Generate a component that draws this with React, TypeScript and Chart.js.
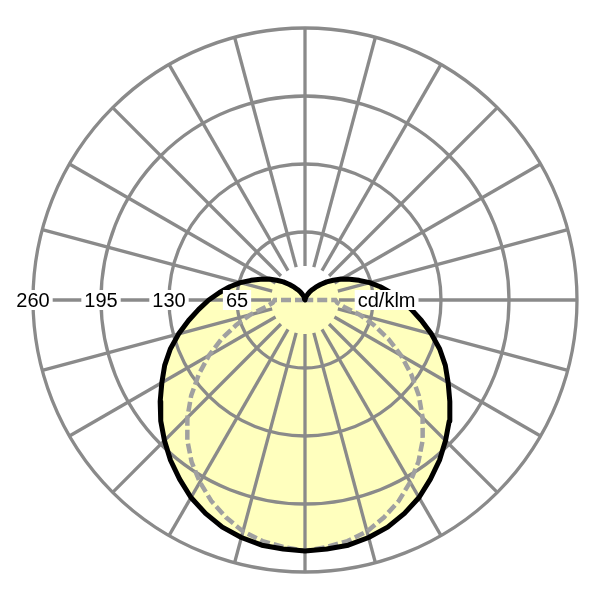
import { useEffect, useRef } from 'react';
import Chart from 'chart.js/auto';

// gamma angles (0 = straight down), intensities in cd/klm
const ANGLES = [
	0, 5, 10, 15, 20, 25, 30, 35, 40, 45, 50, 55, 60, 65, 70, 75, 80, 85, 90,
	95, 100, 105, 110, 115, 120, 125, 130, 135, 140, 145, 150, 155, 160, 165, 170, 175, 180,
];
const C0_C180 = [
	240, 239, 238, 235, 231, 225, 218, 209, 200, 190, 180, 169, 158, 148, 137, 125, 113, 102, 92,
	82, 73, 64, 55, 47, 40, 33, 27, 21, 16, 12, 9, 6, 4, 2, 1, 0, 0,
];
const C90_C270 = [
	240, 237, 234, 229, 221, 212, 201, 189, 175, 159, 142, 124, 106, 88, 70, 54, 38, 31, 29,
	0, 0, 0, 0, 0, 0, 0, 0, 0, 0, 0, 0, 0, 0, 0, 0, 0, 0,
];
const RINGS = [65, 130, 195, 260];
const UNIT = 'cd/klm';

const GRID = '#8a8a8a';
const FONT = '20px "Liberation Sans", Arial, sans-serif';
const PX = 272 / 260; // pixels per cd/klm

// both halves of a plane, mirrored left and right
const toPoints = (values: number[]) => {
	const pts: { x: number; y: number }[] = [];
	for (let i = ANGLES.length - 1; i >= 0; i--) {
		const a = (ANGLES[i] * Math.PI) / 180;
		pts.push({ x: -values[i] * Math.sin(a), y: -values[i] * Math.cos(a) });
	}
	for (let i = 1; i < ANGLES.length; i++) {
		const a = (ANGLES[i] * Math.PI) / 180;
		pts.push({ x: values[i] * Math.sin(a), y: -values[i] * Math.cos(a) });
	}
	return pts;
};

const polarGrid = {
	id: 'polarGrid',
	beforeDatasetsDraw(chart: any) {
		const { ctx, scales: { x, y } } = chart;
		const cx = x.getPixelForValue(0);
		const cy = y.getPixelForValue(0);
		const k = x.getPixelForValue(1) - cx;
		const outer = RINGS[RINGS.length - 1];
		ctx.save();
		ctx.strokeStyle = GRID;
		ctx.lineWidth = 3.3;
		RINGS.forEach((r) => {
			ctx.beginPath();
			ctx.arc(cx, cy, r * k, 0, Math.PI * 2);
			ctx.stroke();
		});
		for (let deg = 0; deg < 360; deg += 15) {
			const a = (deg * Math.PI) / 180;
			ctx.beginPath();
			ctx.moveTo(cx + Math.sin(a) * RINGS[0] * 0.5 * k, cy + Math.cos(a) * RINGS[0] * 0.5 * k);
			ctx.lineTo(cx + Math.sin(a) * outer * k, cy + Math.cos(a) * outer * k);
			ctx.stroke();
		}
		ctx.restore();
	},
	afterDatasetsDraw(chart: any) {
		const { ctx, scales: { x, y } } = chart;
		const cy = y.getPixelForValue(0);
		ctx.save();
		ctx.font = FONT;
		ctx.textAlign = 'center';
		ctx.textBaseline = 'middle';
		const label = (text: string, px: number) => {
			const w = ctx.measureText(text).width + 6;
			ctx.fillStyle = '#ffffff';
			ctx.fillRect(px - w / 2, cy - 10, w, 20);
			ctx.fillStyle = '#000000';
			ctx.fillText(text, px, cy + 1);
		};
		RINGS.forEach((r) => label(String(r), x.getPixelForValue(-r)));
		label(UNIT, x.getPixelForValue(78));
		ctx.restore();
	},
};

const PolarChart = () => {
	const chartRef = useRef<HTMLCanvasElement>(null);

	useEffect(() => {
		const ctx = chartRef.current?.getContext('2d');
		if (!ctx) return;

		const chart = new Chart(ctx, {
			type: 'scatter',
			data: {
				datasets: [
					{
						label: 'C0 - C180',
						data: toPoints(C0_C180),
						showLine: true,
						borderColor: '#000000',
						borderWidth: 5,
						borderJoinStyle: 'round',
						backgroundColor: 'rgb(255, 255, 190)',
						fill: 'shape',
						pointRadius: 0,
					},
					{
						label: 'C90 - C270',
						data: toPoints(C90_C270),
						showLine: true,
						borderColor: '#a0a0a0',
						borderWidth: 4.5,
						borderDash: [10, 4],
						fill: false,
						pointRadius: 0,
					},
				],
			},
			options: {
				responsive: true,
				maintainAspectRatio: false,
				animation: false,
				layout: { padding: 0, autoPadding: false },
				scales: {
					x: { type: 'linear', min: -305 / PX, max: 295 / PX, display: false },
					y: { type: 'linear', min: -300 / PX, max: 300 / PX, display: false },
				},
				plugins: {
					legend: { display: false },
					tooltip: { enabled: false },
					filler: { drawTime: 'beforeDraw' },
				},
				events: [],
			},
			plugins: [polarGrid],
		} as any);

		return () => {
			chart.destroy();
		};
	}, []);

	return <canvas ref={chartRef} />;
};

export default function App() {
	return (
		<div style={{ position: 'fixed', left: 0, top: 0, width: 600, height: 600, background: '#fff' }}>
			<PolarChart />
		</div>
	);
}
